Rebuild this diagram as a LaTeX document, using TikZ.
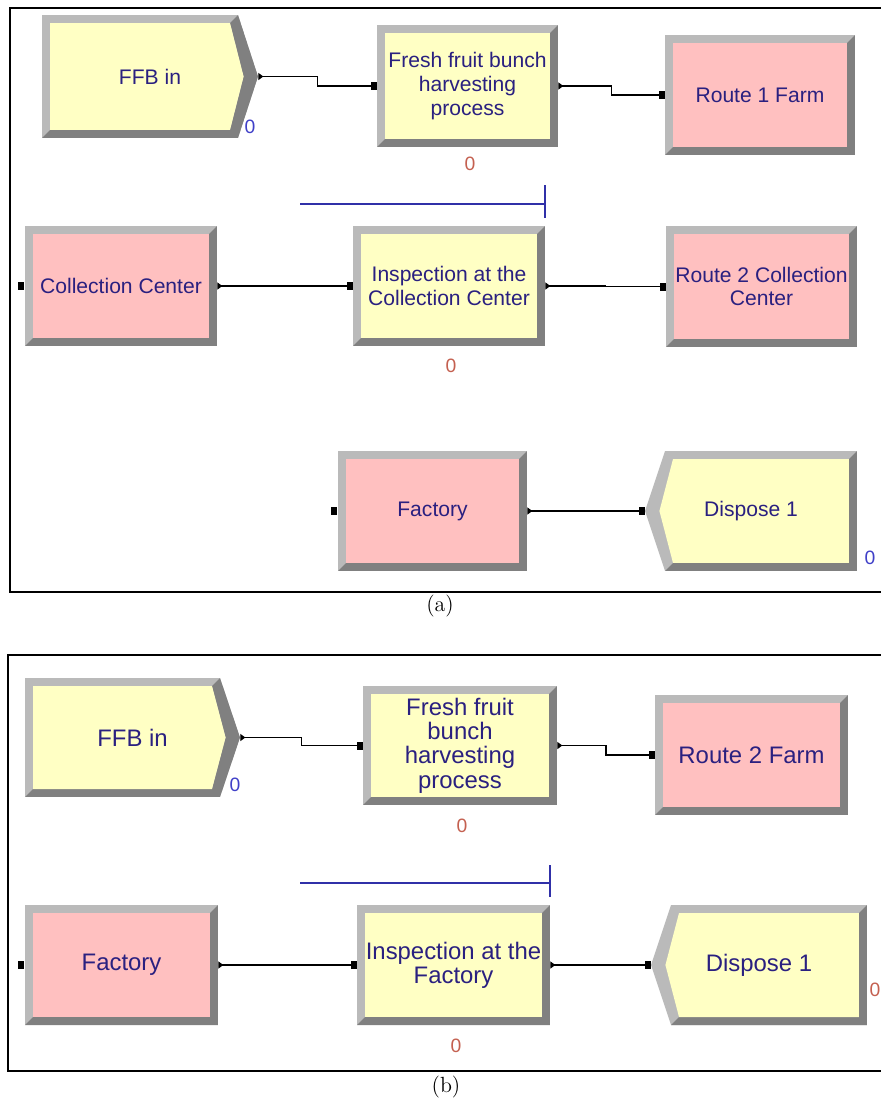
\documentclass[tikz,border=0pt]{standalone}
\usepackage{fontspec}
\usepackage{tikz}
\usetikzlibrary{arrows.meta,calc}
\newfontfamily\arenafont{Liberation Sans}
\definecolor{procfill}{RGB}{255,255,196}
\definecolor{routefill}{RGB}{255,192,192}
\definecolor{bevlite}{RGB}{186,186,186}
\definecolor{bevdark}{RGB}{128,128,128}
\definecolor{labnavy}{RGB}{42,32,128}
\definecolor{qblue}{RGB}{48,48,168}
\definecolor{cntred}{RGB}{196,96,80}
\definecolor{cntblue}{RGB}{64,64,200}
\newcommand{\bevw}{0.16cm}
\newcommand{\chev}{0.4cm}

\begin{document}
\begin{tikzpicture}[x=0.02cm,y=-0.02cm,
    fa/.style={font=\arenafont\fontsize{12}{13.6}\selectfont},
    fb/.style={font=\arenafont\fontsize{13.6}{13.8}\selectfont},
    box/.style={rectangle,align=center,text=labnavy,inner sep=0pt,
      path picture={
        \fill[bevlite] (path picture bounding box.south west) rectangle (path picture bounding box.north east);
        \fill[bevdark] let \p1=(path picture bounding box.south west),\p2=(path picture bounding box.north east) in
          (\x1,\y1) -- (\x2,\y1) -- (\x2,\y2) -- (\x2-\bevw,\y2-\bevw) -- (\x2-\bevw,\y1+\bevw) -- (\x1+\bevw,\y1+\bevw) -- cycle;
        \fill[#1] let \p1=(path picture bounding box.south west),\p2=(path picture bounding box.north east) in
          (\x1+\bevw,\y1+\bevw) rectangle (\x2-\bevw,\y2-\bevw);
      }},
    create/.style={rectangle,align=center,text=labnavy,inner sep=0pt,
      path picture={
        \fill[bevlite] let \p1=(path picture bounding box.south west),\p2=(path picture bounding box.north east),\p3=(path picture bounding box.center) in
          (\x1,\y1) -- (\x2-\chev,\y1) -- (\x2,\y3) -- (\x2-\chev,\y2) -- (\x1,\y2) -- cycle;
        \fill[bevdark] let \p1=(path picture bounding box.south west),\p2=(path picture bounding box.north east),\p3=(path picture bounding box.center) in
          (\x1,\y1) -- (\x2-\chev,\y1) -- (\x2,\y3) -- (\x2-\chev,\y2) -- (\x2-\chev-\bevw,\y2-\bevw)
          -- (\x2-1.8*\bevw,\y3) -- (\x2-\chev-\bevw,\y1+\bevw) -- (\x1+\bevw,\y1+\bevw) -- cycle;
        \fill[#1] let \p1=(path picture bounding box.south west),\p2=(path picture bounding box.north east),\p3=(path picture bounding box.center) in
          (\x1+\bevw,\y1+\bevw) -- (\x2-\chev-\bevw,\y1+\bevw) -- (\x2-1.8*\bevw,\y3) -- (\x2-\chev-\bevw,\y2-\bevw) -- (\x1+\bevw,\y2-\bevw) -- cycle;
      }},
    dispose/.style={rectangle,align=center,text=labnavy,inner sep=0pt,
      path picture={
        \fill[bevlite] let \p1=(path picture bounding box.south west),\p2=(path picture bounding box.north east),\p3=(path picture bounding box.center) in
          (\x1+\chev,\y1) -- (\x2,\y1) -- (\x2,\y2) -- (\x1+\chev,\y2) -- (\x1,\y3) -- cycle;
        \fill[bevdark] let \p1=(path picture bounding box.south west),\p2=(path picture bounding box.north east) in
          (\x1+\chev,\y1) -- (\x2,\y1) -- (\x2,\y2) -- (\x2-\bevw,\y2-\bevw) -- (\x2-\bevw,\y1+\bevw) -- (\x1+\chev+\bevw,\y1+\bevw) -- cycle;
        \fill[#1] let \p1=(path picture bounding box.south west),\p2=(path picture bounding box.north east),\p3=(path picture bounding box.center) in
          (\x1+\chev+\bevw,\y1+\bevw) -- (\x2-\bevw,\y1+\bevw) -- (\x2-\bevw,\y2-\bevw) -- (\x1+\chev+\bevw,\y2-\bevw) -- (\x1+1.8*\bevw,\y3) -- cycle;
      }},
    conn/.style={line width=0.8pt,{Triangle[reversed,length=0.1cm,width=0.14cm]}-{Square[length=0.12cm,width=0.16cm]}},
    qline/.style={qblue,line width=1.1pt},
    cnt/.style={text=#1,font=\arenafont\fontsize{11}{11}\selectfont,inner sep=0pt},
    figcap/.style={font=\fontsize{12.5}{14}\selectfont},
    frame/.style={line width=1.1pt}]
  \useasboundingbox (0,0) rectangle (880,1106);

  % (a)
  \draw[frame] (10,8) rectangle (895,592);
  \node[create=procfill,fa,minimum width=4.32cm,minimum height=2.46cm] (ffba) at (150,76.5) {FFB in};
  \node[box=procfill,fa,minimum width=3.62cm,minimum height=2.44cm] (proca) at (467.5,86) {Fresh fruit bunch\\harvesting\\process};
  \node[box=routefill,fa,minimum width=3.8cm,minimum height=2.4cm] (route1) at (760,95) {Route 1 Farm};
  \node[box=routefill,fa,minimum width=3.84cm,minimum height=2.4cm] (cca) at (121,286) {Collection Center};
  \node[box=procfill,fa,minimum width=3.84cm,minimum height=2.4cm] (inspa) at (449,286) {Inspection at the\\Collection Center};
  \node[box=routefill,fa,minimum width=3.82cm,minimum height=2.42cm] (route2cc) at (761.5,286.5) {Route 2 Collection\\Center};
  \node[box=routefill,fa,minimum width=3.78cm,minimum height=2.4cm] (facta) at (432.5,511) {Factory};
  \node[dispose=procfill,fa,minimum width=4.24cm,minimum height=2.4cm] (dispa) at (751,511) {Dispose 1};

  \node[cnt=cntblue] (ffba0) at (250,127) {0};
  \node[cnt=cntred] (proca0) at (470,164) {0};
  \node[cnt=cntred] (inspa0) at (451,366) {0};
  \node[cnt=cntblue] (dispa0) at (870,558) {0};

  \draw[qline] ([yshift=0.44cm]inspa.north east) -- ([xshift=-4.9cm,yshift=0.44cm]inspa.north east);
  \draw[qline] ([yshift=0.16cm]inspa.north east) -- ([yshift=0.82cm]inspa.north east);

  \draw[conn] (ffba.east) -| ($(ffba.east)!.5!(proca.west)$) |- (proca.west);
  \draw[conn] (proca.east) -| ($(proca.east)!.5!(route1.west)$) |- (route1.west);
  \draw[conn] (cca.east) -- (inspa.west);
  \draw[conn] (inspa.east) -| ($(inspa.east)!.5!(route2cc.west)$) |- (route2cc.west);
  \draw[conn] (facta.east) -- (dispa.west);
  \fill ($(cca.west)+(-7,-4)$) rectangle ++(6,8);
  \fill ($(facta.west)+(-7,-4)$) rectangle ++(6,8);

  \node[figcap] (capa) at (440,606) {(a)};

  % (b)
  \draw[frame] (8,655) rectangle (895,1071);
  \node[create=procfill,fb,minimum width=4.3cm,minimum height=2.38cm] (ffbb) at (132.5,737.5) {FFB in};
  \node[box=procfill,fb,minimum width=3.88cm,minimum height=2.38cm] (procb) at (460,745.5) {Fresh fruit\\bunch\\harvesting\\process};
  \node[box=routefill,fb,minimum width=3.86cm,minimum height=2.4cm] (route2f) at (751.5,755) {Route 2 Farm};
  \node[box=routefill,fb,minimum width=3.86cm,minimum height=2.4cm] (factb) at (121.5,965) {Factory};
  \node[box=procfill,fb,minimum width=3.86cm,minimum height=2.4cm] (inspb) at (453.5,965) {Inspection at the\\Factory};
  \node[dispose=procfill,fb,minimum width=4.32cm,minimum height=2.4cm] (dispb) at (759,965) {Dispose 1};

  \node[cnt=cntblue] (ffbb0) at (235,785) {0};
  \node[cnt=cntred] (procb0) at (462,826) {0};
  \node[cnt=cntred] (inspb0) at (456,1046) {0};
  \node[cnt=cntred] (dispb0) at (875,990) {0};

  \draw[qline] ([yshift=0.44cm]inspb.north east) -- ([xshift=-5cm,yshift=0.44cm]inspb.north east);
  \draw[qline] ([yshift=0.16cm]inspb.north east) -- ([yshift=0.8cm]inspb.north east);

  \draw[conn] (ffbb.east) -| ($(ffbb.east)!.5!(procb.west)$) |- (procb.west);
  \draw[conn] (procb.east) -| ($(procb.east)!.5!(route2f.west)$) |- (route2f.west);
  \draw[conn] (factb.east) -- (inspb.west);
  \draw[conn] (inspb.east) -- (dispb.west);
  \fill ($(factb.west)+(-7,-4)$) rectangle ++(6,8);

  \node[figcap] (capb) at (446,1087) {(b)};
\end{tikzpicture}
\end{document}
